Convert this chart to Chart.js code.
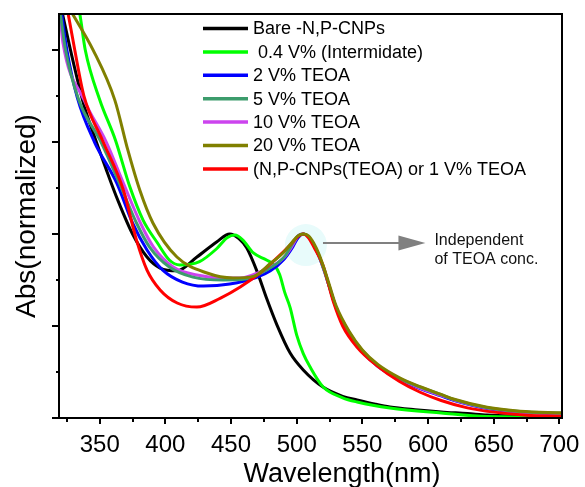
<!DOCTYPE html>
<html lang="en">
<head>
<meta charset="utf-8">
<title>Abs vs wavelength</title>
<script src="https://cdn.jsdelivr.net/npm/chart.js@4.4.0/dist/chart.umd.min.js"></script>
<style>
  html, body { margin: 0; padding: 0; background: #fff; }
  #wrap { width: 585px; height: 487px; }
</style>
</head>
<body>
<div id="wrap"><canvas id="absChart" width="585" height="487"></canvas></div>
<script>
  // ---- values (wavelength in nm, absorbance normalised to the 505 nm peak) ----
  const bareWl = [320, 330, 338, 345, 355, 364, 375, 386, 396, 409, 424, 439, 449, 456, 462, 470, 477, 485, 495, 505, 520, 535, 546, 560, 571, 590, 610, 630, 645, 670, 702];
  const bareAbs = [2.25, 1.93, 1.70, 1.55, 1.35, 1.18, 1.0, 0.875, 0.815, 0.80, 0.875, 0.957, 1.0, 0.975, 0.924, 0.793, 0.652, 0.505, 0.353, 0.261, 0.168, 0.118, 0.098, 0.075, 0.060, 0.045, 0.033, 0.024, 0.016, 0.010, 0.005];

  const interWl = [320, 328, 335, 339, 350, 362, 373, 383, 394, 403, 411, 426, 439, 447, 453, 459, 467, 477, 483, 487, 491, 495, 500, 505, 510, 520, 535, 546, 571, 610, 645, 702];
  const interAbs = [2.75, 2.45, 2.19, 2.0, 1.73, 1.51, 1.255, 1.076, 0.951, 0.859, 0.832, 0.85, 0.92, 0.98, 0.995, 0.967, 0.897, 0.859, 0.83, 0.78, 0.68, 0.60, 0.45, 0.35, 0.28, 0.17, 0.11, 0.087, 0.054, 0.027, 0.008, 0.005];

  const teoa2Wl = [320, 325, 333, 346, 363, 375, 386, 398, 413, 429, 449, 470, 480, 490, 497, 501, 505, 509, 513, 517, 521, 525, 530, 540, 550, 562, 578, 594, 610, 620, 645, 670, 702];
  const teoa2Abs = [2.25, 2.0, 1.74, 1.50, 1.277, 1.06, 0.913, 0.804, 0.739, 0.717, 0.728, 0.766, 0.80, 0.86, 0.93, 0.98, 1.0, 0.985, 0.94, 0.88, 0.80, 0.71, 0.60, 0.46, 0.36, 0.28, 0.21, 0.16, 0.12, 0.095, 0.052, 0.032, 0.022];

  const teoa5Wl = [320, 324, 334, 351, 365, 378, 388, 403, 421, 444, 461, 476, 491, 497, 501, 505, 509, 513, 517, 521, 525, 530, 540, 550, 562, 578, 594, 610, 620, 645, 670, 702];
  const teoa5Abs = [2.2, 2.0, 1.73, 1.50, 1.277, 1.06, 0.929, 0.821, 0.766, 0.75, 0.755, 0.80, 0.88, 0.95, 0.99, 1.0, 0.985, 0.94, 0.88, 0.80, 0.71, 0.60, 0.465, 0.365, 0.285, 0.215, 0.168, 0.127, 0.10, 0.056, 0.035, 0.026];

  const teoa10Wl = [320, 322, 338, 355, 368, 381, 391, 406, 424, 444, 457, 470, 490, 497, 501, 505, 509, 513, 517, 521, 525, 530, 540, 550, 562, 578, 594, 610, 620, 645, 670, 702];
  const teoa10Abs = [2.17, 2.04, 1.73, 1.50, 1.277, 1.06, 0.929, 0.821, 0.777, 0.761, 0.761, 0.788, 0.87, 0.94, 0.99, 1.0, 0.985, 0.94, 0.88, 0.80, 0.71, 0.60, 0.46, 0.36, 0.28, 0.212, 0.163, 0.123, 0.098, 0.054, 0.033, 0.024];

  const teoa20Wl = [320, 329, 345, 361.5, 371.4, 380.5, 390.5, 408.8, 431.7, 451.5, 467, 480, 490, 497, 501, 505, 509, 513, 517, 521, 525, 530, 540, 550, 562, 578, 594, 610, 620, 645, 670, 702];
  const teoa20Abs = [2.31, 2.2, 2.0, 1.728, 1.457, 1.239, 1.06, 0.875, 0.788, 0.761, 0.77, 0.84, 0.90, 0.96, 0.99, 1.0, 0.99, 0.95, 0.89, 0.81, 0.72, 0.61, 0.47, 0.37, 0.29, 0.22, 0.17, 0.128, 0.102, 0.058, 0.037, 0.028];

  const teoa1Wl = [320, 326, 331, 338, 352, 368, 378, 386, 396, 409, 424, 442, 457, 472, 485, 495, 500, 505, 509, 513, 520, 528, 535, 546, 561, 578, 594, 610, 630, 650, 675, 702];
  const teoa1Abs = [2.45, 2.196, 2.0, 1.75, 1.511, 1.239, 0.967, 0.804, 0.696, 0.625, 0.603, 0.652, 0.712, 0.788, 0.870, 0.940, 0.98, 1.0, 0.98, 0.93, 0.83, 0.63, 0.50, 0.385, 0.285, 0.20, 0.14, 0.095, 0.055, 0.032, 0.015, 0.010];

  const seriesNames = ['Bare -N,P-CNPs', ' 0.4 V% (Intermidate)', '2 V% TEOA', '5 V% TEOA', '10 V% TEOA', '20 V% TEOA', '(N,P-CNPs(TEOA) or 1 V% TEOA'];
  const seriesColors = ['#000000', '#00ff00', '#0000ff', '#3c9c6c', '#cc44ee', '#808000', '#ff0000'];
  const seriesWl = [bareWl, interWl, teoa2Wl, teoa5Wl, teoa10Wl, teoa20Wl, teoa1Wl];
  const seriesAbs = [bareAbs, interAbs, teoa2Abs, teoa5Abs, teoa10Abs, teoa20Abs, teoa1Abs];
  const drawOrder = [7, 6, 5, 3, 4, 1, 2];

  const xMajor = [350, 400, 450, 500, 550, 600, 650, 700];
  const xMinor = [325, 375, 425, 475, 525, 575, 625, 675];
  const yMajor = [0, 0.5, 1, 1.5, 2];
  const yMinor = [0.25, 0.75, 1.25, 1.75];

  const xTitle = 'Wavelength(nm)';
  const yTitle = 'Abs(normalized)';
  const noteLines = ['Independent', 'of TEOA conc.'];
  const FONT = '"Liberation Sans", Arial, sans-serif';

  const datasets = seriesNames.map((name, i) => ({
    label: name,
    data: seriesWl[i].map((w, k) => ({ x: w, y: seriesAbs[i][k] })),
    borderColor: seriesColors[i],
    backgroundColor: seriesColors[i],
    borderWidth: 3,
    pointRadius: 0,
    cubicInterpolationMode: 'monotone',
    order: drawOrder[i]
  }));

  // frame, tick marks, titles, legend and the arrow note
  const decor = {
    id: 'decor',
    beforeDatasetsDraw(chart) {
      const { ctx, scales: { x, y } } = chart;
      ctx.save();
      ctx.fillStyle = '#e8fbfb';
      ctx.beginPath();
      ctx.arc(x.getPixelForValue(507), y.getPixelForValue(0.94), 21, 0, Math.PI * 2);
      ctx.fill();
      ctx.restore();
    },
    afterDraw(chart) {
      const { ctx, chartArea: a, scales: { x, y } } = chart;
      ctx.save();
      ctx.strokeStyle = '#000';
      ctx.lineWidth = 2;
      ctx.strokeRect(a.left, a.top, a.right - a.left, a.bottom - a.top);

      ctx.beginPath();
      xMajor.forEach(v => { const p = Math.round(x.getPixelForValue(v)); ctx.moveTo(p, a.bottom); ctx.lineTo(p, a.bottom + 6); });
      xMinor.forEach(v => { const p = Math.round(x.getPixelForValue(v)); ctx.moveTo(p, a.bottom); ctx.lineTo(p, a.bottom + 4); });
      yMajor.forEach(v => { const p = Math.round(y.getPixelForValue(v)); ctx.moveTo(a.left, p); ctx.lineTo(a.left - 7, p); });
      yMinor.forEach(v => { const p = Math.round(y.getPixelForValue(v)); ctx.moveTo(a.left, p); ctx.lineTo(a.left - 3, p); });
      ctx.stroke();

      // axis titles
      ctx.fillStyle = '#000';
      ctx.font = '27px ' + FONT;
      ctx.textAlign = 'center';
      ctx.textBaseline = 'alphabetic';
      ctx.fillText(xTitle, 342, 482);
      ctx.save();
      ctx.translate(35, 216);
      ctx.rotate(-Math.PI / 2);
      ctx.font = '28px ' + FONT;
      ctx.fillText(yTitle, 0, 0);
      ctx.restore();

      // legend
      ctx.font = '18px ' + FONT;
      ctx.textAlign = 'left';
      ctx.textBaseline = 'middle';
      seriesNames.forEach((name, i) => {
        const ry = 28.5 + i * 23.4;
        ctx.strokeStyle = seriesColors[i];
        ctx.lineWidth = 3.5;
        ctx.beginPath();
        ctx.moveTo(203, ry);
        ctx.lineTo(248, ry);
        ctx.stroke();
        ctx.fillStyle = '#000';
        ctx.fillText(name, 253, ry + 1);
      });

      // arrow pointing at the shared peak
      const ax0 = x.getPixelForValue(520), ax1 = x.getPixelForValue(598), ay = y.getPixelForValue(0.951);
      ctx.strokeStyle = '#808080';
      ctx.fillStyle = '#808080';
      ctx.lineWidth = 2;
      ctx.beginPath();
      ctx.moveTo(ax0, ay);
      ctx.lineTo(ax1 - 24, ay);
      ctx.stroke();
      ctx.beginPath();
      ctx.moveTo(ax1 - 27, ay - 7.5);
      ctx.lineTo(ax1, ay);
      ctx.lineTo(ax1 - 27, ay + 7.5);
      ctx.closePath();
      ctx.fill();

      ctx.fillStyle = '#111';
      ctx.font = '16px ' + FONT;
      ctx.textBaseline = 'alphabetic';
      ctx.fillText(noteLines[0], ax1 + 9, 245);
      ctx.fillText(noteLines[1], ax1 + 9, 264);
      ctx.restore();
    }
  };

  new Chart(document.getElementById('absChart'), {
    type: 'line',
    data: { datasets },
    options: {
      responsive: false,
      animation: false,
      layout: { padding: { left: 0, top: 14, right: 23, bottom: 0 } },
      plugins: { legend: { display: false }, tooltip: { enabled: false } },
      scales: {
        x: {
          type: 'linear',
          min: 319,
          max: 702,
          afterBuildTicks: s => { s.ticks = xMajor.map(v => ({ value: v })); },
          afterFit: s => { s.height = 69; },
          grid: { display: false },
          border: { display: false },
          ticks: { color: '#000', font: { family: FONT, size: 24 }, padding: 5, maxRotation: 0, autoSkip: false }
        },
        y: {
          min: 0,
          max: 2.196,
          afterFit: s => { s.width = 59; },
          grid: { display: false },
          border: { display: false },
          ticks: { display: false }
        }
      }
    },
    plugins: [decor]
  });
</script>
</body>
</html>
